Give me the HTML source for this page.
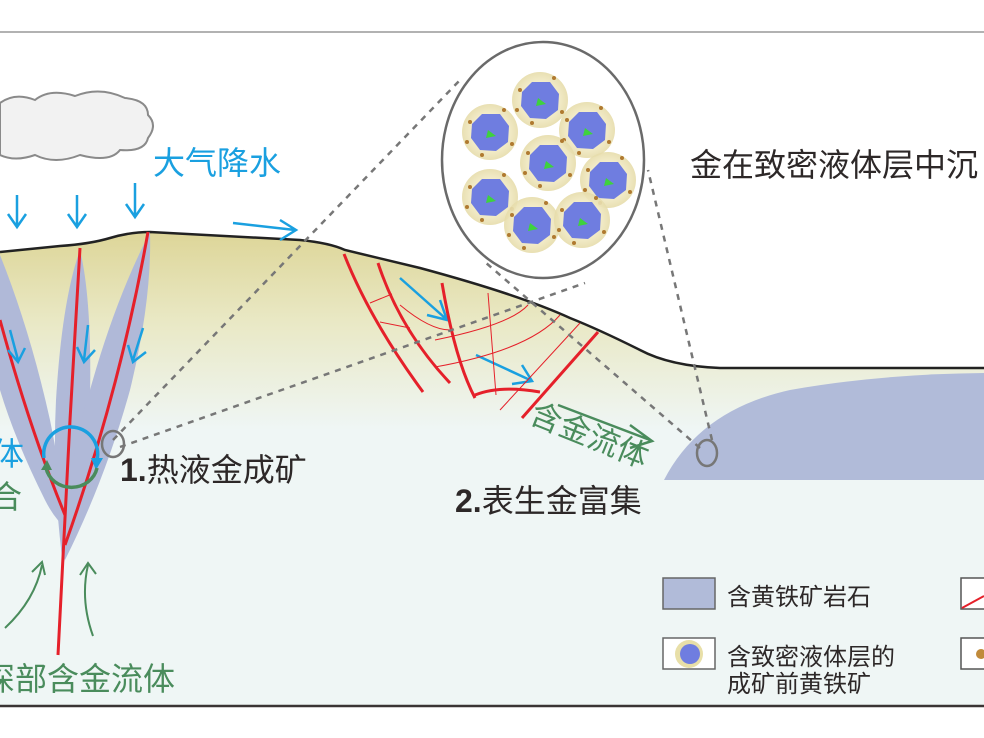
<!DOCTYPE html>
<html><head><meta charset="utf-8"><style>
html,body{margin:0;padding:0;background:#fff;}
svg{display:block;}
text{font-family:"Liberation Sans","Noto Sans CJK SC",sans-serif;}
</style></head><body>
<svg width="984" height="738" viewBox="0 0 984 738" xmlns="http://www.w3.org/2000/svg">
<defs>
<linearGradient id="gr" x1="0" y1="230" x2="0" y2="430" gradientUnits="userSpaceOnUse">
<stop offset="0" stop-color="#ddd597"/><stop offset="0.45" stop-color="#e9e8c4"/><stop offset="1" stop-color="#eff6f5"/>
</linearGradient>
<radialGradient id="halo"><stop offset="0.6" stop-color="#f3ecc8"/><stop offset="1" stop-color="#e6dcaa"/></radialGradient>
<g id="py">
<circle r="28" fill="url(#halo)" opacity="0.9"/>
<polygon points="-18,-8 -8,-18 10,-18 19,-6 18,10 6,19 -10,18 -19,6" fill="#6f7de0"/>
<polygon points="-2,-2 6,4 -4,6" fill="#3ed23e"/>
<circle cx="-20" cy="-10" r="2" fill="#b07a30"/><circle cx="14" cy="-22" r="2" fill="#b07a30"/><circle cx="22" cy="12" r="2" fill="#b07a30"/><circle cx="-8" cy="23" r="2" fill="#b07a30"/><circle cx="-23" cy="10" r="2" fill="#b07a30"/>
</g>
</defs>
<line x1="0" y1="32" x2="984" y2="32" stroke="#999" stroke-width="1.5"/>
<path d="M0,252 L60,246 Q90,244 110,238 Q130,232 150,232 L300,240 Q330,243 345,250 L420,268 Q520,295 570,318 Q600,330 640,350 Q670,366 720,368 L984,368 L984,706 L0,706 Z" fill="url(#gr)"/>
<path d="M0,252 L60,246 Q90,244 110,238 Q130,232 150,232 L300,240 Q330,243 345,250 L420,268 Q520,295 570,318 Q600,330 640,350 Q670,366 720,368 L984,368" fill="none" stroke="#222" stroke-width="2.5"/>
<line x1="0" y1="706" x2="984" y2="706" stroke="#3a3434" stroke-width="2.5"/>
<path d="M664,480 Q700,410 790,390 Q880,374 984,373 L984,480 Z" fill="#b1bbd9"/>
<g fill="#b0b9d8">
<path d="M0,255 Q30,330 50,420 Q62,480 68,530 Q55,520 45,500 Q15,440 0,390 Z"/>
<path d="M80,250 Q92,300 90,400 Q85,500 63,565 Q52,480 56,400 Q62,300 80,250 Z"/>
<path d="M150,232 Q152,300 130,390 Q105,480 65,560 Q65,470 90,390 Q115,300 150,232 Z"/>
</g>
<g stroke="#e5202a" stroke-width="3" fill="none">
<path d="M0,320 Q30,430 65,515"/>
<path d="M80,248 L70,420 L58,655"/>
<path d="M148,232 Q120,390 65,545"/>
</g>
<path d="M44,458 A27,27 0 1 1 97,460" fill="none" stroke="#1aa0e0" stroke-width="3.5"/>
<polygon points="91,458 103,458 96,470" fill="#1aa0e0"/>
<path d="M46,468 A26,24 0 0 0 97,468" fill="none" stroke="#4a8c5c" stroke-width="3.5"/>
<polygon points="41,470 52,470 47,460" fill="#4a8c5c"/>
<g stroke="#4a8c5c" stroke-width="2" fill="none">
<path d="M5,628 Q35,600 42,565"/><path d="M32,572 L42,562 L45,575"/>
<path d="M93,636 Q80,600 88,565"/><path d="M80,575 L88,563 L96,574"/>
</g>
<g stroke="#1aa0e0" stroke-width="2.5" fill="none">
<path d="M17,195 V225 M8,214 L17,227 L26,214"/>
<path d="M77,195 V225 M68,214 L77,227 L86,214"/>
<path d="M135,183 V215 M126,204 L135,217 L144,204"/>
<path d="M10,330 L18,360 M8,350 L18,362 L25,348"/>
<path d="M88,325 L84,360 M77,347 L84,362 L95,350"/>
<path d="M143,328 L133,360 M128,345 L133,362 L146,352"/>
<path d="M233,223 L295,230 M280,220 L296,230 L280,240"/>
<path d="M400,278 L445,318 M427,315 L447,320 L440,300"/>
<path d="M476,355 L530,380 M512,384 L532,381 L522,365"/>
</g>
<path d="M0,103 Q15,92 35,100 Q50,88 75,96 Q100,86 125,98 Q148,100 148,115 Q158,125 148,138 Q145,152 120,150 Q110,163 80,155 Q55,165 35,155 Q15,162 0,155 Z" fill="#f2f2f2" stroke="#8a8a8a" stroke-width="2"/>
<g stroke="#e5202a" fill="none">
<g stroke-width="3">
<path d="M344,254 Q370,320 423,392"/>
<path d="M378,263 Q400,330 450,383"/>
<path d="M442,283 Q455,360 475,398"/>
<path d="M598,332 L522,418"/>
<path d="M475,395 Q500,385 540,392"/>
</g>
<g stroke-width="1">
<path d="M370,303 L392,294 M380,322 L410,328"/>
<path d="M400,305 Q430,330 450,330 M435,340 Q510,325 528,305 M435,367 Q530,350 560,315"/>
<path d="M488,293 L496,395 M580,323 L500,410"/>
</g>
</g>
<g stroke="#777" stroke-width="2.5" stroke-dasharray="6,6" fill="none">
<path d="M113,440 L460,80"/>
<path d="M120,447 L585,283"/>
<path d="M700,448 L485,262"/>
<path d="M712,440 L648,170"/>
</g>
<ellipse cx="113" cy="444" rx="11" ry="13" fill="none" stroke="#777" stroke-width="2.5"/>
<ellipse cx="707" cy="453" rx="10" ry="13" fill="none" stroke="#777" stroke-width="2.5"/>
<ellipse cx="543" cy="160" rx="101" ry="118" fill="#fff" stroke="#6a6a6a" stroke-width="2.5"/>
<use href="#py" x="540" y="100"/><use href="#py" x="490" y="132"/><use href="#py" x="587" y="130"/>
<use href="#py" x="490" y="197"/><use href="#py" x="608" y="180"/><use href="#py" x="548" y="163"/>
<use href="#py" x="532" y="225"/><use href="#py" x="582" y="220"/>
<text x="153" y="174" font-size="32" fill="#1aa0e0">大气降水</text>
<text x="690" y="176" font-size="32" fill="#2d2828">金在致密液体层中沉</text>
<text x="-8" y="465" font-size="32" fill="#1aa0e0">体</text>
<text x="-10" y="508" font-size="32" fill="#4a8c5c">合</text>
<text x="120" y="481" font-size="32" fill="#2d2828"><tspan font-weight="bold">1.</tspan>热液金成矿</text>
<text x="455" y="512" font-size="32" fill="#2d2828"><tspan font-weight="bold">2.</tspan>表生金富集</text>
<text x="-17" y="690" font-size="32" fill="#4a8c5c">深部含金流体</text>
<text x="0" y="0" font-size="31" fill="#4a8c5c" transform="translate(528,422) rotate(22)">含金流体</text>
<g stroke="#4a8c5c" stroke-width="2.5" fill="none"><path d="M558,405 L650,440 M630,425 L652,441 L630,448"/></g>
<rect x="663" y="578" width="52" height="31" fill="#b1bbd9" stroke="#666" stroke-width="1.5"/>
<text x="727" y="605" font-size="24" fill="#2d2828">含黄铁矿岩石</text>
<rect x="663" y="638" width="52" height="31" fill="#fff" stroke="#666" stroke-width="1.5"/>
<circle cx="689" cy="654" r="14" fill="#e8dfa8"/><circle cx="690" cy="654" r="10" fill="#6f7de0"/>
<text x="727" y="665" font-size="24" fill="#2d2828">含致密液体层的</text>
<text x="727" y="692" font-size="24" fill="#2d2828">成矿前黄铁矿</text>
<rect x="961" y="578" width="30" height="31" fill="#fff" stroke="#555" stroke-width="1.5"/>
<line x1="962" y1="608" x2="984" y2="596" stroke="#e5202a" stroke-width="2"/>
<rect x="961" y="638" width="30" height="31" fill="#fff" stroke="#555" stroke-width="1.5"/>
<circle cx="981" cy="654" r="5" fill="#c08a3a"/>
</svg>
</body></html>
